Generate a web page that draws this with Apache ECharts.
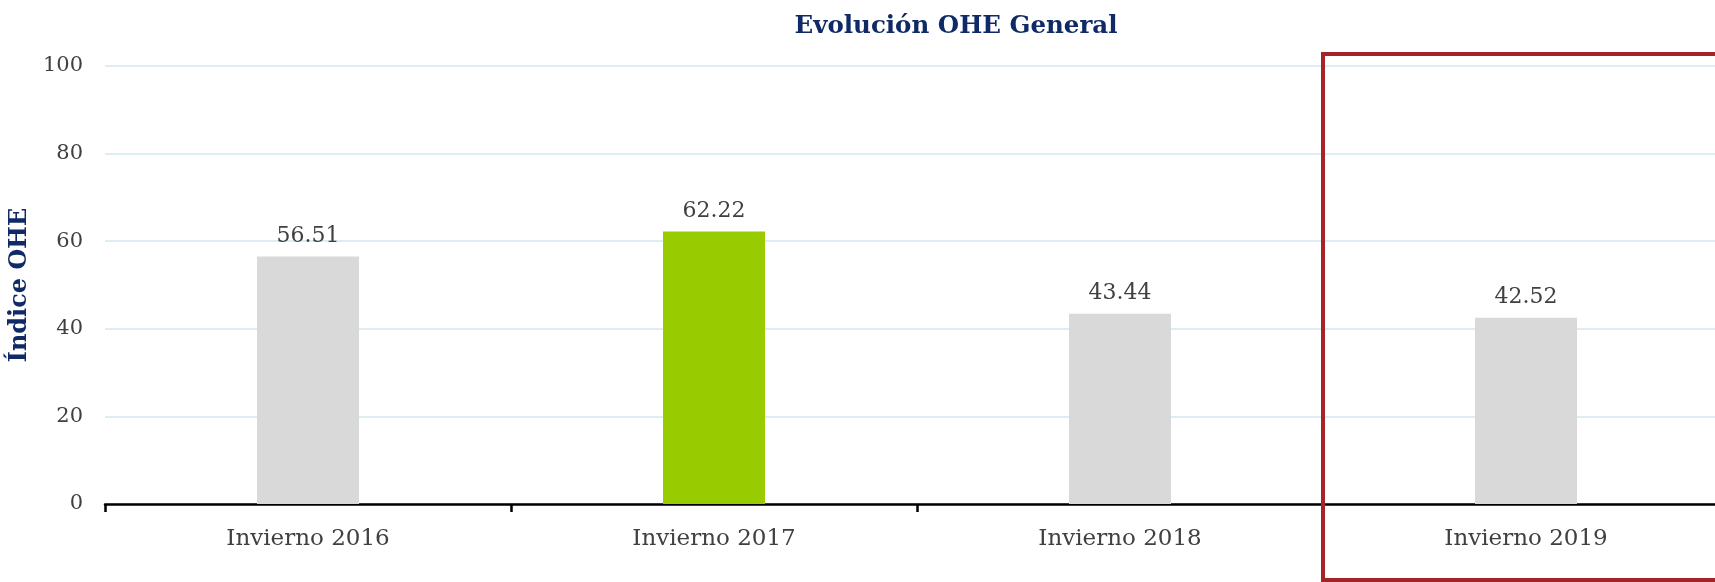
<!DOCTYPE html>
<html>
<head>
<meta charset="utf-8">
<title>Evolución OHE General</title>
<script src="https://cdn.jsdelivr.net/npm/echarts@6/dist/echarts.min.js"></script>
<style>
  html, body { margin: 0; padding: 0; background: #fff; }
  #chart { width: 1715px; height: 582px; }
</style>
</head>
<body>
<div id="chart"></div>
<script>
// datos del gráfico
const categories = ['Invierno 2016', 'Invierno 2017', 'Invierno 2018', 'Invierno 2019'];
const values = [56.51, 62.22, 43.44, 42.52];
const barColors = ['#d9d9d9', '#99cc00', '#d9d9d9', '#d9d9d9'];
const yTicks = [0, 20, 40, 60, 80, 100];
const highlighted = 'Invierno 2019';

const serif = '"DejaVu Serif", Georgia, serif';
const navy = '#0f2a66';
const textGray = '#404040';

const chart = echarts.init(document.getElementById('chart'));

const option = {
  backgroundColor: '#fff',
  animation: false,
  title: {
    text: 'Evolución OHE General',
    left: 951,
    top: 9,
    textAlign: 'center',
    textStyle: {
      fontFamily: serif,
      fontWeight: 'bold',
      fontSize: 24.5,
      color: navy
    }
  },
  grid: {
    left: 105,
    top: 66,
    bottom: 78,
    right: -14,
    outerBoundsMode: 'none',
    containLabel: false
  },
  xAxis: {
    type: 'category',
    data: categories,
    axisLine: { lineStyle: { color: '#000', width: 2.5 } },
    axisTick: { show: true, length: 8, lineStyle: { color: '#000', width: 2.5 } },
    axisLabel: {
      fontFamily: serif,
      fontSize: 23,
      color: textGray,
      margin: 24
    }
  },
  yAxis: {
    type: 'value',
    min: yTicks[0],
    max: yTicks[yTicks.length - 1],
    interval: 20,
    name: 'Índice OHE',
    nameLocation: 'middle',
    nameRotate: 90,
    nameGap: 66,
    nameTextStyle: {
      fontFamily: serif,
      fontWeight: 'bold',
      fontSize: 24,
      color: navy
    },
    axisLine: { show: false },
    axisTick: { show: false },
    axisLabel: {
      fontFamily: serif,
      fontSize: 21,
      color: textGray,
      margin: 22
    },
    splitLine: { lineStyle: { color: '#dcedf4', width: 2 } }
  },
  series: [{
    type: 'bar',
    barWidth: 102,
    data: values.map((v, i) => ({ value: v, itemStyle: { color: barColors[i] } })),
    label: {
      show: true,
      position: 'top',
      distance: 9,
      fontFamily: serif,
      fontSize: 22,
      color: textGray,
      formatter: p => p.value.toFixed(2)
    }
  }]
};

chart.setOption(option);

// recuadro rojo alrededor de la última categoría
const idx = categories.indexOf(highlighted);
const c0 = chart.convertToPixel({ xAxisIndex: 0 }, categories[0]);
const c1 = chart.convertToPixel({ xAxisIndex: 0 }, categories[1]);
const band = c1 - c0;
const boxLeft = chart.convertToPixel({ xAxisIndex: 0 }, categories[idx]) - band / 2;

chart.setOption({
  graphic: [{
    type: 'rect',
    shape: { x: boxLeft, y: 54, width: 600, height: 526 },
    style: { fill: 'none', stroke: '#a62327', lineWidth: 4 },
    z: 100
  }]
});
</script>
</body>
</html>
